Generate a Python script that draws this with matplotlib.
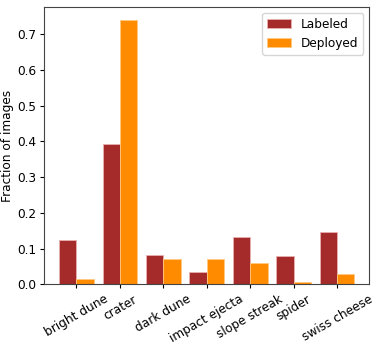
import numpy as np
import matplotlib.pyplot as plt

# fraction of images per class
categories = ["bright dune", "crater", "dark dune", "impact ejecta",
              "slope streak", "spider", "swiss cheese"]
labeled = [0.124, 0.393, 0.082, 0.035, 0.132, 0.080, 0.146]
deployed = [0.014, 0.739, 0.071, 0.071, 0.061, 0.006, 0.029]

plt.rcParams["font.size"] = 8.7
plt.rcParams["xtick.major.size"] = 3
plt.rcParams["ytick.major.size"] = 3
plt.rcParams["xtick.major.pad"] = 3
plt.rcParams["ytick.major.pad"] = 3

x = np.arange(len(categories))
w = 0.4

fig = plt.figure(figsize=(3.79, 3.46), dpi=100)
ax = fig.add_axes([0.117, 0.178, 0.857, 0.802])

ax.bar(x - w/2, labeled, w, color="brown", edgecolor="#e8b0b0", linewidth=0.6, label="Labeled")
ax.bar(x + w/2, deployed, w, color="darkorange", edgecolor="#ffc880", linewidth=0.6, label="Deployed")

ax.set_xticks(x)
ax.set_xticklabels(categories, rotation=30)
ax.set_ylabel("Fraction of images", labelpad=2)
ax.legend(loc="upper right")

for s in ax.spines.values():
    s.set_color("#444444")

fig.savefig("out.png", dpi=100)
